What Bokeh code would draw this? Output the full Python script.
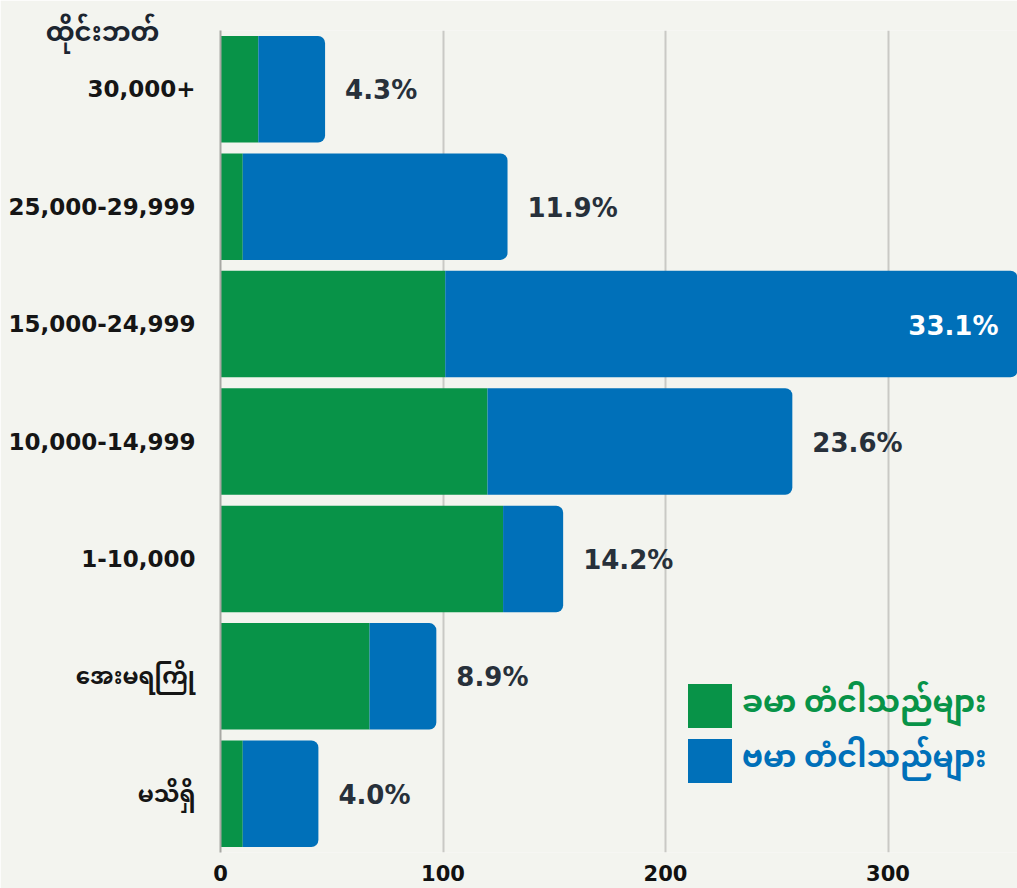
from bokeh.plotting import figure
from bokeh.models import ColumnDataSource, FactorRange, Range1d, Label, Legend, LegendItem, FixedTicker
from bokeh.embed import file_html
from bokeh.resources import INLINE
from bokeh.core.properties import value

categories = ["30,000+", "25,000-29,999", "15,000-24,999", "10,000-14,999", "1-10,000", "အေးမရကြို", "မသိရှိ"]
khmer = [17, 10, 101, 120, 127, 67, 10]
burmese = [30, 119, 261, 137, 27, 30, 34]
pct_labels = ["4.3%", "11.9%", "33.1%", "23.6%", "14.2%", "8.9%", "4.0%"]
x_ticks = [0, 100, 200, 300]
legend_labels = ["ခမာ တံငါသည်များ", "ဗမာ တံငါသည်များ"]
axis_title = "ထိုင်းဘတ်"

GREEN = "#089348"
BLUE = "#0070b9"
BG = "#f3f4ef"
FONT = "'DejaVu Sans', 'Noto Sans Myanmar', 'Padauk', sans-serif"
MFONT = "'Noto Sans Myanmar', 'Padauk', 'Noto Sans', sans-serif"

W, H = 1017, 888
LEFT, TOP, BOTTOM = 220, 26, 36
XMAX = 358.2
totals = [k + b for k, b in zip(khmer, burmese)]

inside = [t > XMAX for t in totals]
src = ColumnDataSource(dict(
    cat=categories, khmer=khmer, burmese=burmese, total=totals,
))
out_src = ColumnDataSource(dict(
    cat=[c for c, i in zip(categories, inside) if not i],
    x=[t for t, i in zip(totals, inside) if not i],
    txt=[p for p, i in zip(pct_labels, inside) if not i],
))
in_src = ColumnDataSource(dict(
    cat=[c for c, i in zip(categories, inside) if i],
    x=[XMAX for t, i in zip(totals, inside) if i],
    txt=[p for p, i in zip(pct_labels, inside) if i],
))

p = figure(width=W, height=H, output_backend="svg", toolbar_location=None,
           y_range=FactorRange(*reversed(categories), range_padding=0),
           x_range=Range1d(0, XMAX),
           min_border_left=LEFT, min_border_right=0, min_border_top=TOP, min_border_bottom=BOTTOM)
p.background_fill_color = BG
p.border_fill_color = BG
p.outline_line_color = None

r1 = p.hbar(y="cat", left=0, right="khmer", height=0.907, source=src,
            fill_color=GREEN, line_color=None)
r2 = p.hbar(y="cat", left="khmer", right="total", height=0.907, source=src,
            fill_color=BLUE, line_color=None, border_radius=(0, 7, 7, 0))

p.text(x="x", y="cat", text="txt", source=out_src, x_offset=20, y_offset=1,
       text_baseline="middle", text_align="left", text_font=value(FONT),
       text_font_size="26px", text_font_style="bold", text_color="#27303a")
p.text(x="x", y="cat", text="txt", source=in_src, x_offset=-19, y_offset=2,
       text_baseline="middle", text_align="right", text_font=value(FONT),
       text_font_size="26px", text_font_style="bold", text_color="white")

p.xgrid.grid_line_color = "#c9c9c5"
p.xgrid.grid_line_width = 2
p.ygrid.grid_line_color = None
p.xaxis.ticker = FixedTicker(ticks=x_ticks)
p.xaxis.axis_line_color = None
p.xaxis.major_tick_line_color = None
p.xaxis.minor_tick_line_color = None
p.xaxis.major_label_text_font = FONT
p.xaxis.major_label_text_font_size = "21px"
p.xaxis.major_label_text_font_style = "bold"
p.xaxis.major_label_text_color = "#111111"
p.xaxis.major_label_standoff = 6

p.yaxis.axis_line_color = "#a8a8a4"
p.yaxis.axis_line_width = 2
p.yaxis.major_tick_line_color = None
p.yaxis.minor_tick_line_color = None
p.yaxis.major_label_text_font = FONT
p.yaxis.major_label_text_font_size = "23px"
p.yaxis.major_label_text_font_style = "bold"
p.yaxis.major_label_text_color = "#151515"
p.yaxis.major_label_standoff = 19

p.add_layout(Label(x=-118, y=-1, x_units="screen", y_units="screen", text=axis_title,
                   text_align="center", text_baseline="middle", text_line_height=0.55,
                   text_font=FONT, text_font_size="26px", text_font_style="bold",
                   text_color="#1c2530"), "above")

for r, lab, col, yy in [(r1, legend_labels[0], GREEN, 114), (r2, legend_labels[1], BLUE, 59)]:
    lg = Legend(items=[LegendItem(label=lab, renderers=[r])], location=(462, yy),
                glyph_width=55, glyph_height=55, label_text_font=MFONT,
                label_text_font_size="30px", label_text_font_style="bold",
                label_text_color=col, background_fill_alpha=0, border_line_color=None,
                padding=0, margin=0, label_standoff=5, spacing=0, label_height=55)
    p.add_layout(lg)

open("out.html", "w").write(file_html(p, INLINE))
